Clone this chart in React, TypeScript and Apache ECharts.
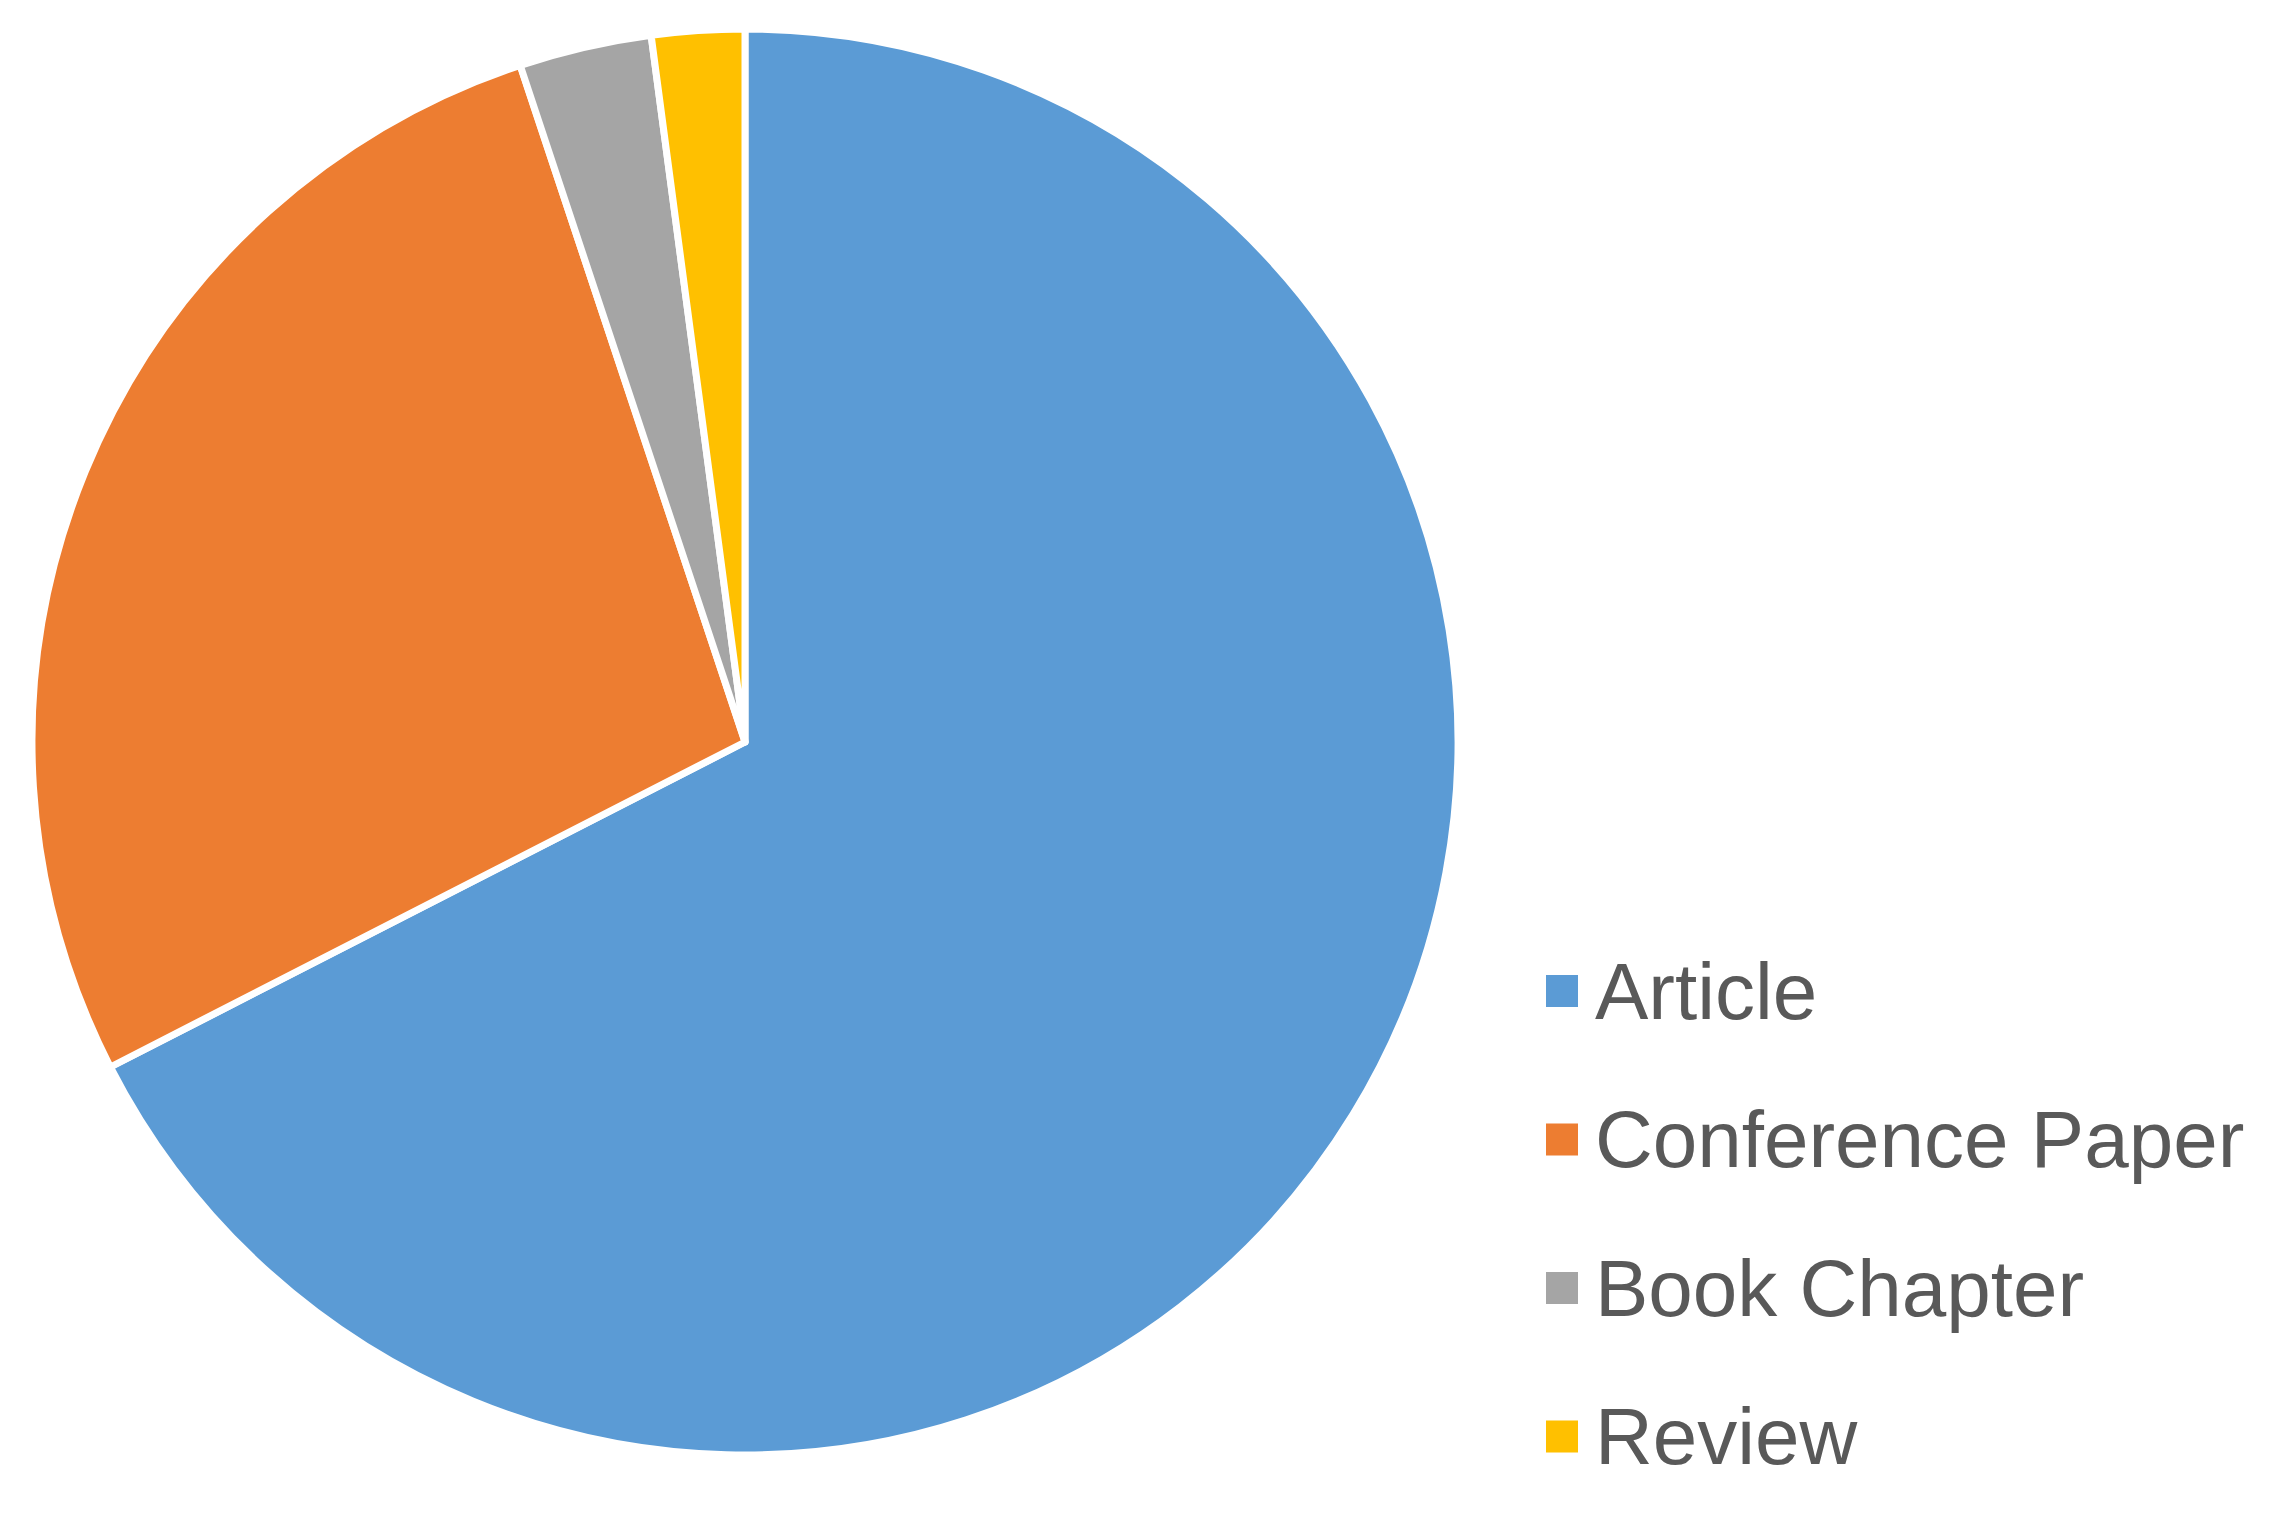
import React, { useEffect, useRef } from "react";
import * as echarts from "echarts";

const categories = ["Article", "Conference Paper", "Book Chapter", "Review"];
const values = [67.4, 27.4, 3.0, 2.1];
const colors = ["#5B9BD5", "#ED7D31", "#A5A5A5", "#FFC000"];

export default function App() {
  const ref = useRef<HTMLDivElement>(null);
  useEffect(() => {
    if (!ref.current) return;
    const chart = echarts.init(ref.current, null, { renderer: "svg" });
    chart.setOption({
      animation: false,
      backgroundColor: "#ffffff",
      legend: {
        orient: "vertical",
        left: 1541,
        top: 941,
        icon: "rect",
        itemWidth: 32,
        itemHeight: 32,
        itemGap: 58.5,
        itemStyle: { borderWidth: 0 },
        textStyle: {
          color: "#595959",
          fontSize: 80,
          lineHeight: 90,
          fontFamily: "'Liberation Sans', Arial, Helvetica, sans-serif",
          padding: [0, 0, 0, 12],
        },
        data: categories,
      },
      series: [
        {
          type: "pie",
          center: [745, 742],
          radius: [0, 713],
          startAngle: 90,
          clockwise: true,
          label: { show: false },
          labelLine: { show: false },
          emphasis: { disabled: true },
          itemStyle: { borderColor: "#ffffff", borderWidth: 7 },
          data: categories.map((c, i) => ({
            name: c,
            value: values[i],
            itemStyle: { color: colors[i] },
          })),
        },
      ],
    });
    return () => chart.dispose();
  }, []);
  return (
    <div
      ref={ref}
      style={{ position: "absolute", left: 0, top: 0, width: 2272, height: 1516 }}
    />
  );
}
